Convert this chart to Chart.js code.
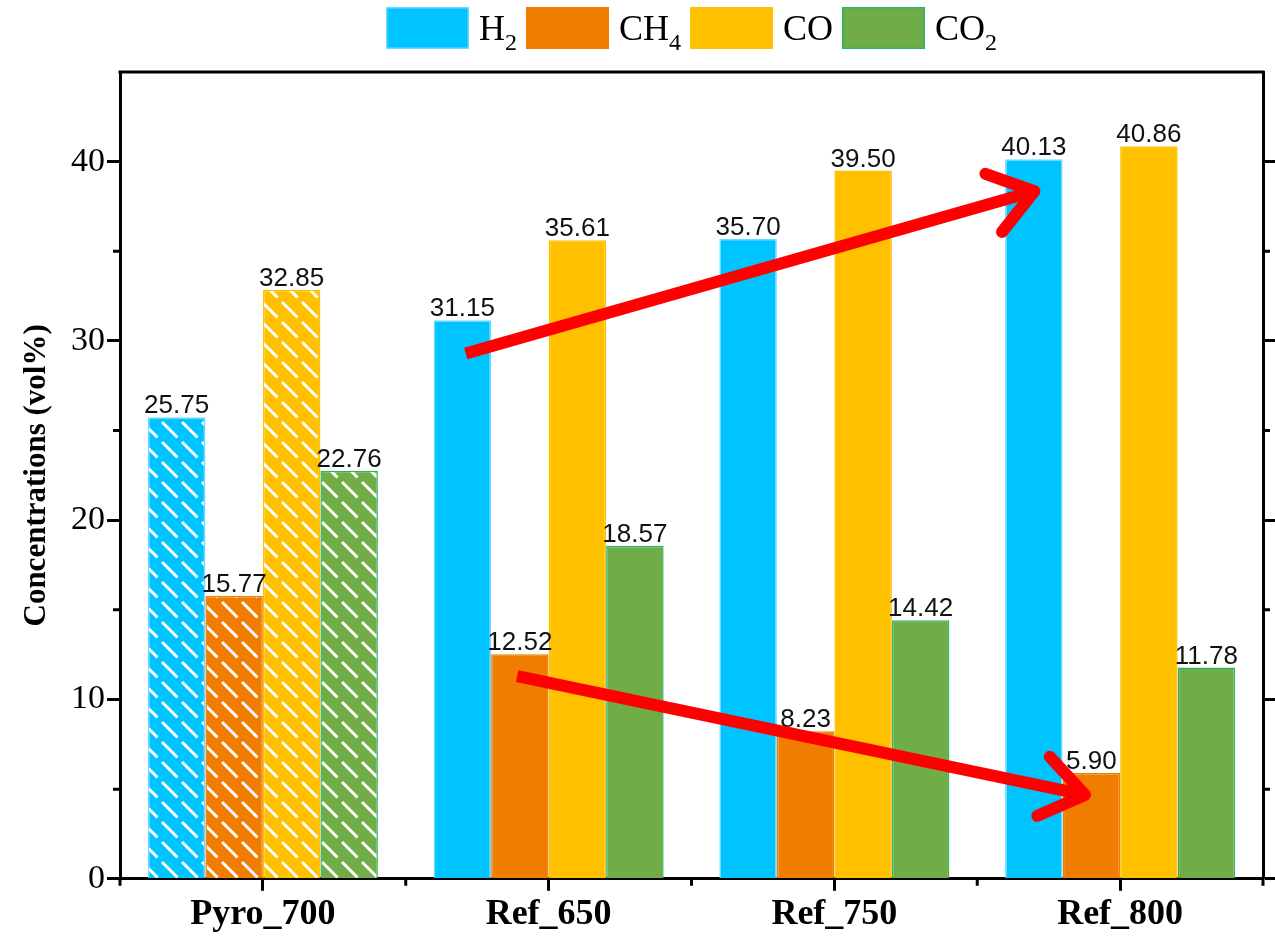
<!DOCTYPE html>
<html>
<head>
<meta charset="utf-8">
<script src="https://cdn.jsdelivr.net/npm/chart.js@4.4.0/dist/chart.umd.min.js"></script>
<style>
  body { margin: 0; background: #fff; }
  #wrap { width: 1275px; height: 938px; position: relative; }
</style>
</head>
<body>
<div id="wrap"><canvas id="gasChart"></canvas></div>
<script>
const categories = ['Pyro_700', 'Ref_650', 'Ref_750', 'Ref_800'];
const h2Values = [25.75, 31.15, 35.70, 40.13];
const ch4Values = [15.77, 12.52, 8.23, 5.90];
const coValues = [32.85, 35.61, 39.50, 40.86];
const co2Values = [22.76, 18.57, 14.42, 11.78];
// legend names as [main text, subscript]
const gasLabels = [['H', '2'], ['CH', '4'], ['CO', ''], ['CO', '2']];
const yMinorTicks = [5, 15, 25, 35];
// red trend arrows, given in data space: [category position, value]
const trendArrows = [
    { from: [0.71, 29.3], to: [2.70, 38.35] },
    { from: [0.89, 11.3], to: [2.877, 4.68] }
];

const serif = "'Liberation Serif', 'Times New Roman', serif";
const sans = "'Liberation Sans', Arial, sans-serif";

const fillColors = ['#00C4FF', '#F07C00', '#FFC000', '#70AD47'];
const edgeColors = ['#6FD8FF', '#F07C00', '#FFC000', '#2FB36B'];

// white diagonal dashes used for the Pyro_700 bars
function makeHatch(color) {
    const size = 20;
    const c = document.createElement('canvas');
    c.width = size;
    c.height = size;
    const g = c.getContext('2d');
    g.fillStyle = color;
    g.fillRect(0, 0, size, size);
    g.strokeStyle = '#ffffff';
    g.lineWidth = 3;
    g.beginPath();
    g.moveTo(2, 2);
    g.lineTo(17.5, 17.5);
    g.stroke();
    return g.createPattern(c, 'repeat');
}

const hatches = fillColors.map(makeHatch);
const seriesValues = [h2Values, ch4Values, coValues, co2Values];

const datasets = seriesValues.map((vals, i) => ({
    label: gasLabels[i].join(''),
    data: vals,
    backgroundColor: ctx => (ctx.dataIndex === 0 ? hatches[i] : fillColors[i]),
    borderColor: edgeColors[i],
    borderWidth: 1.5,
    categoryPercentage: 0.805,
    barPercentage: 1.0
}));

const framePlugin = {
    id: 'frameAndMinorTicks',
    afterDraw(chart) {
        const { ctx, chartArea: a, scales: { x, y } } = chart;
        ctx.save();
        ctx.strokeStyle = '#000';
        ctx.lineWidth = 3;
        ctx.beginPath();
        ctx.moveTo(a.left - 1.5, a.top);
        ctx.lineTo(a.right + 1.5, a.top);
        ctx.stroke();

        ctx.beginPath();
        for (let i = 0; i <= categories.length; i++) {
            const px = x.getPixelForValue(i - 0.5);
            ctx.moveTo(px, a.bottom);
            ctx.lineTo(px, a.bottom + 7);
        }
        yMinorTicks.forEach(v => {
            const py = y.getPixelForValue(v);
            ctx.moveTo(a.left, py);
            ctx.lineTo(a.left - 7, py);
            ctx.moveTo(a.right, py);
            ctx.lineTo(a.right + 7, py);
        });
        ctx.stroke();

        // legend with real subscripts
        ctx.textBaseline = 'alphabetic';
        const boxW = 83, boxH = 42, gapIn = 10, gapOut = 9;
        const mainFont = '36px ' + serif;
        const subFont = '24px ' + serif;
        const widths = gasLabels.map(([m, s]) => {
            ctx.font = mainFont;
            let w = ctx.measureText(m).width;
            ctx.font = subFont;
            w += s ? ctx.measureText(s).width : 0;
            return w;
        });
        let total = 0;
        widths.forEach((w, i) => { total += boxW + gapIn + w + (i < widths.length - 1 ? gapOut : 0); });
        let lx = (a.left + a.right) / 2 - total / 2;
        const boxTop = 7;
        gasLabels.forEach(([m, s], i) => {
            ctx.fillStyle = fillColors[i];
            ctx.fillRect(lx, boxTop, boxW, boxH);
            ctx.strokeStyle = edgeColors[i];
            ctx.lineWidth = 1.5;
            ctx.strokeRect(lx + 0.75, boxTop + 0.75, boxW - 1.5, boxH - 1.5);
            let tx = lx + boxW + gapIn;
            ctx.fillStyle = '#000';
            ctx.font = mainFont;
            ctx.textAlign = 'left';
            ctx.fillText(m, tx, 40);
            tx += ctx.measureText(m).width;
            if (s) {
                ctx.font = subFont;
                ctx.fillText(s, tx, 50);
            }
            lx += boxW + gapIn + widths[i] + gapOut;
        });
        ctx.restore();
    }
};

const valueLabelPlugin = {
    id: 'valueLabels',
    afterDatasetsDraw(chart) {
        const { ctx, scales: { x, y } } = chart;
        ctx.save();
        ctx.font = '26px ' + sans;
        ctx.fillStyle = '#111';
        ctx.textAlign = 'center';
        ctx.textBaseline = 'alphabetic';
        chart.data.datasets.forEach((ds, i) => {
            chart.getDatasetMeta(i).data.forEach((bar, j) => {
                ctx.fillText(ds.data[j].toFixed(2), bar.x, bar.y - 4);
            });
        });

        // trend arrows
        ctx.strokeStyle = '#FF0000';
        ctx.lineWidth = 12;
        trendArrows.forEach(arr => {
            const x1 = x.getPixelForValue(arr.from[0]);
            const y1 = y.getPixelForValue(arr.from[1]);
            const x2 = x.getPixelForValue(arr.to[0]);
            const y2 = y.getPixelForValue(arr.to[1]);
            const ang = Math.atan2(y2 - y1, x2 - x1);
            ctx.lineCap = 'butt';
            ctx.beginPath();
            ctx.moveTo(x1, y1);
            ctx.lineTo(x2 - 5 * Math.cos(ang), y2 - 5 * Math.sin(ang));
            ctx.stroke();
            const len = 52, spread = 0.62;
            ctx.lineCap = 'round';
            ctx.lineJoin = 'round';
            ctx.beginPath();
            ctx.moveTo(x2 - len * Math.cos(ang - spread), y2 - len * Math.sin(ang - spread));
            ctx.lineTo(x2, y2);
            ctx.lineTo(x2 - len * Math.cos(ang + spread), y2 - len * Math.sin(ang + spread));
            ctx.stroke();
        });
        ctx.restore();
    }
};

const ctx = document.getElementById('gasChart').getContext('2d');
new Chart(ctx, {
    type: 'bar',
    data: { labels: categories, datasets: datasets },
    options: {
        responsive: true,
        maintainAspectRatio: false,
        animation: false,
        layout: { padding: { top: 72, left: 18, right: 0, bottom: 0 } },
        plugins: {
            legend: { display: false },
            tooltip: { enabled: false }
        },
        scales: {
            x: {
                offset: true,
                ticks: {
                    color: '#000',
                    padding: 2,
                    font: { family: serif, size: 36, weight: 'bold' }
                },
                grid: {
                    offset: false,
                    drawOnChartArea: false,
                    tickLength: 12,
                    tickWidth: 3,
                    tickColor: '#000'
                },
                border: { color: '#000', width: 3 }
            },
            y: {
                min: 0,
                max: 45,
                afterFit: s => { s.width = 102; },
                ticks: {
                    stepSize: 10,
                    includeBounds: false,
                    padding: 2,
                    color: '#000',
                    font: { family: serif, size: 34 }
                },
                grid: {
                    drawOnChartArea: false,
                    tickLength: 13,
                    tickWidth: 3,
                    tickColor: '#000'
                },
                border: { color: '#000', width: 3 },
                title: {
                    display: true,
                    text: 'Concentrations (vol%)',
                    color: '#000',
                    padding: { top: 0, bottom: 0 },
                    font: { family: serif, size: 31, weight: 'bold' }
                }
            },
            y2: {
                position: 'right',
                min: 0,
                max: 45,
                ticks: { display: false, stepSize: 10, includeBounds: false },
                grid: {
                    drawOnChartArea: false,
                    tickLength: 12,
                    tickWidth: 3,
                    tickColor: '#000'
                },
                border: { color: '#000', width: 3 }
            }
        }
    },
    plugins: [framePlugin, valueLabelPlugin]
});
</script>
</body>
</html>
